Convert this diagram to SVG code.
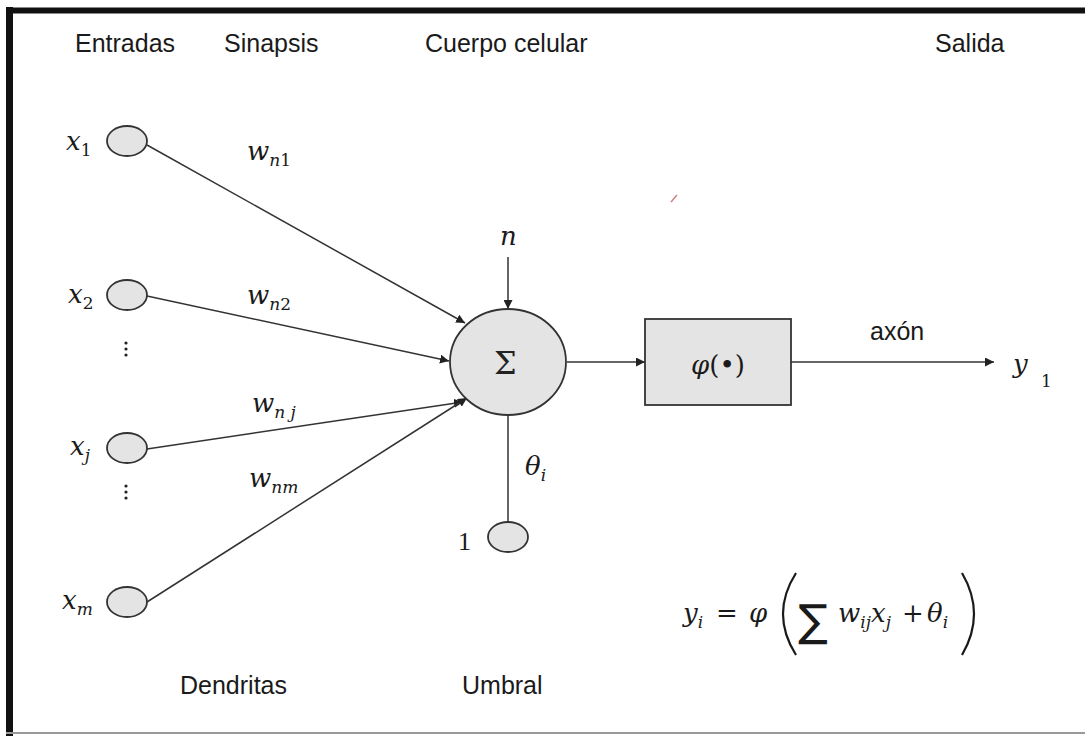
<svg xmlns="http://www.w3.org/2000/svg" width="1085" height="736" viewBox="0 0 1085 736">
<defs>
<style>
.hdr{font-family:"Liberation Sans",Arial,sans-serif;font-size:25px;fill:#1a1a1a}
.m{font-family:"DejaVu Serif","Liberation Serif",serif;font-style:italic;font-size:26px;fill:#1a1a1a}
.sub{font-size:17px}
.up{font-style:normal}
.node{fill:#e4e4e4;stroke:#333;stroke-width:1.8}
.ln{stroke:#333;stroke-width:1.5;fill:none}
.dot{fill:#222}
</style>
<marker id="ah" viewBox="0 0 10 10" refX="10" refY="5" markerWidth="9" markerHeight="9" markerUnits="userSpaceOnUse" orient="auto">
<path d="M0,0 L10,5 L0,10 z" fill="#222"/>
</marker>
</defs>
<rect x="0" y="0" width="1085" height="736" fill="#fff"/>
<g id="frame">
<line x1="6" y1="10.5" x2="1085" y2="10.5" stroke="#111" stroke-width="6"/>
<line x1="9.5" y1="7" x2="9.5" y2="736" stroke="#111" stroke-width="7"/>
<line x1="6" y1="733" x2="1085" y2="733" stroke="#999" stroke-width="2"/>
</g>
<g id="headers">
<text class="hdr" x="75" y="52">Entradas</text>
<text class="hdr" x="224" y="52">Sinapsis</text>
<text class="hdr" x="425" y="52">Cuerpo celular</text>
<text class="hdr" x="935" y="52">Salida</text>
<text class="hdr" x="180" y="694">Dendritas</text>
<text class="hdr" x="462" y="694">Umbral</text>
</g>
<g id="connectors">
<line class="ln" x1="147" y1="145" x2="465" y2="323" marker-end="url(#ah)"/>
<line class="ln" x1="147" y1="296" x2="449" y2="361" marker-end="url(#ah)"/>
<line class="ln" x1="147" y1="449" x2="463" y2="402" marker-end="url(#ah)"/>
<line class="ln" x1="147" y1="602" x2="467" y2="398" marker-end="url(#ah)"/>
<line class="ln" x1="508" y1="257" x2="508" y2="309" marker-end="url(#ah)"/>
<line class="ln" x1="567" y1="362" x2="645" y2="362" marker-end="url(#ah)"/>
<line class="ln" x1="791" y1="362" x2="994" y2="362" marker-end="url(#ah)"/>
<line class="ln" x1="508" y1="415" x2="508" y2="522"/>
</g>
<g id="x1"><ellipse class="node" cx="127" cy="141" rx="20" ry="15"/><text class="m" x="66" y="150">x<tspan class="sub up" dy="6">1</tspan></text></g>
<g id="x2"><ellipse class="node" cx="127" cy="295" rx="20" ry="15"/><text class="m" x="68" y="303">x<tspan class="sub up" dy="6">2</tspan></text></g>
<g id="dots1"><circle class="dot" cx="126" cy="343" r="1.6"/><circle class="dot" cx="126" cy="349" r="1.6"/><circle class="dot" cx="126" cy="355" r="1.6"/></g>
<g id="xj"><ellipse class="node" cx="127" cy="448" rx="20" ry="15"/><text class="m" x="70" y="455">x<tspan class="sub" dy="6">j</tspan></text></g>
<g id="dots2"><circle class="dot" cx="126" cy="486" r="1.6"/><circle class="dot" cx="126" cy="492" r="1.6"/><circle class="dot" cx="126" cy="498" r="1.6"/></g>
<g id="xm"><ellipse class="node" cx="127" cy="602" rx="20" ry="15"/><text class="m" x="62" y="609">x<tspan class="sub" dy="6">m</tspan></text></g>
<g id="weights">
<text class="m" x="247" y="160">w<tspan class="sub" dy="6">n</tspan><tspan class="sub up">1</tspan></text>
<text class="m" x="247" y="304">w<tspan class="sub" dy="6">n</tspan><tspan class="sub up">2</tspan></text>
<text class="m" x="252" y="412">w<tspan class="sub" dy="6">n j</tspan></text>
<text class="m" x="249" y="487">w<tspan class="sub" dy="6">nm</tspan></text>
</g>
<g id="n"><text class="m" x="500" y="245">n</text></g>
<g id="sum"><ellipse class="node" cx="508" cy="362" rx="58" ry="53"/><text x="494" y="374" style="font-family:'DejaVu Serif','Liberation Serif',serif;font-size:32px;fill:#222">Σ</text></g>
<g id="phi"><rect class="node" x="645" y="319" width="146" height="86"/><text class="m" x="718" y="374" text-anchor="middle">φ<tspan class="up">(•)</tspan></text></g>
<g id="axon"><text class="hdr" x="870" y="340">axón</text></g>
<g id="y1"><text class="m" x="1013" y="373">y</text><text class="m sub up" x="1041" y="387">1</text></g>
<g id="theta"><text class="m" x="525" y="475">θ<tspan class="sub" dy="6">i</tspan></text></g>
<g id="bias"><ellipse class="node" cx="508" cy="537" rx="20" ry="15"/><text x="458" y="550" style="font-family:'Liberation Serif',serif;font-size:26px;fill:#1a1a1a">1</text></g>
<g id="formula">
<text class="m" x="683" y="622">y<tspan class="sub" dy="6">i</tspan></text>
<text class="m up" x="716" y="622">=</text>
<text class="m" x="749" y="622">φ</text>
<path d="M796,573 Q770,614 796,655" fill="none" stroke="#1a1a1a" stroke-width="2.2"/>
<text x="798" y="636" style="font-family:'DejaVu Sans','Liberation Sans',sans-serif;font-size:44px;fill:#1a1a1a">∑</text>
<text class="m" x="838" y="622">w<tspan class="sub" dy="6">ij</tspan><tspan dy="-6">x</tspan><tspan class="sub" dy="6">j</tspan></text>
<text class="m up" x="902" y="622">+</text>
<text class="m" x="927" y="622">θ<tspan class="sub" dy="6">i</tspan></text>
<path d="M962,573 Q986,614 962,655" fill="none" stroke="#1a1a1a" stroke-width="2.2"/>
</g>
<g id="mark"><line x1="671" y1="202" x2="677" y2="195" stroke="#d08080" stroke-width="1.5"/></g>
</svg>
